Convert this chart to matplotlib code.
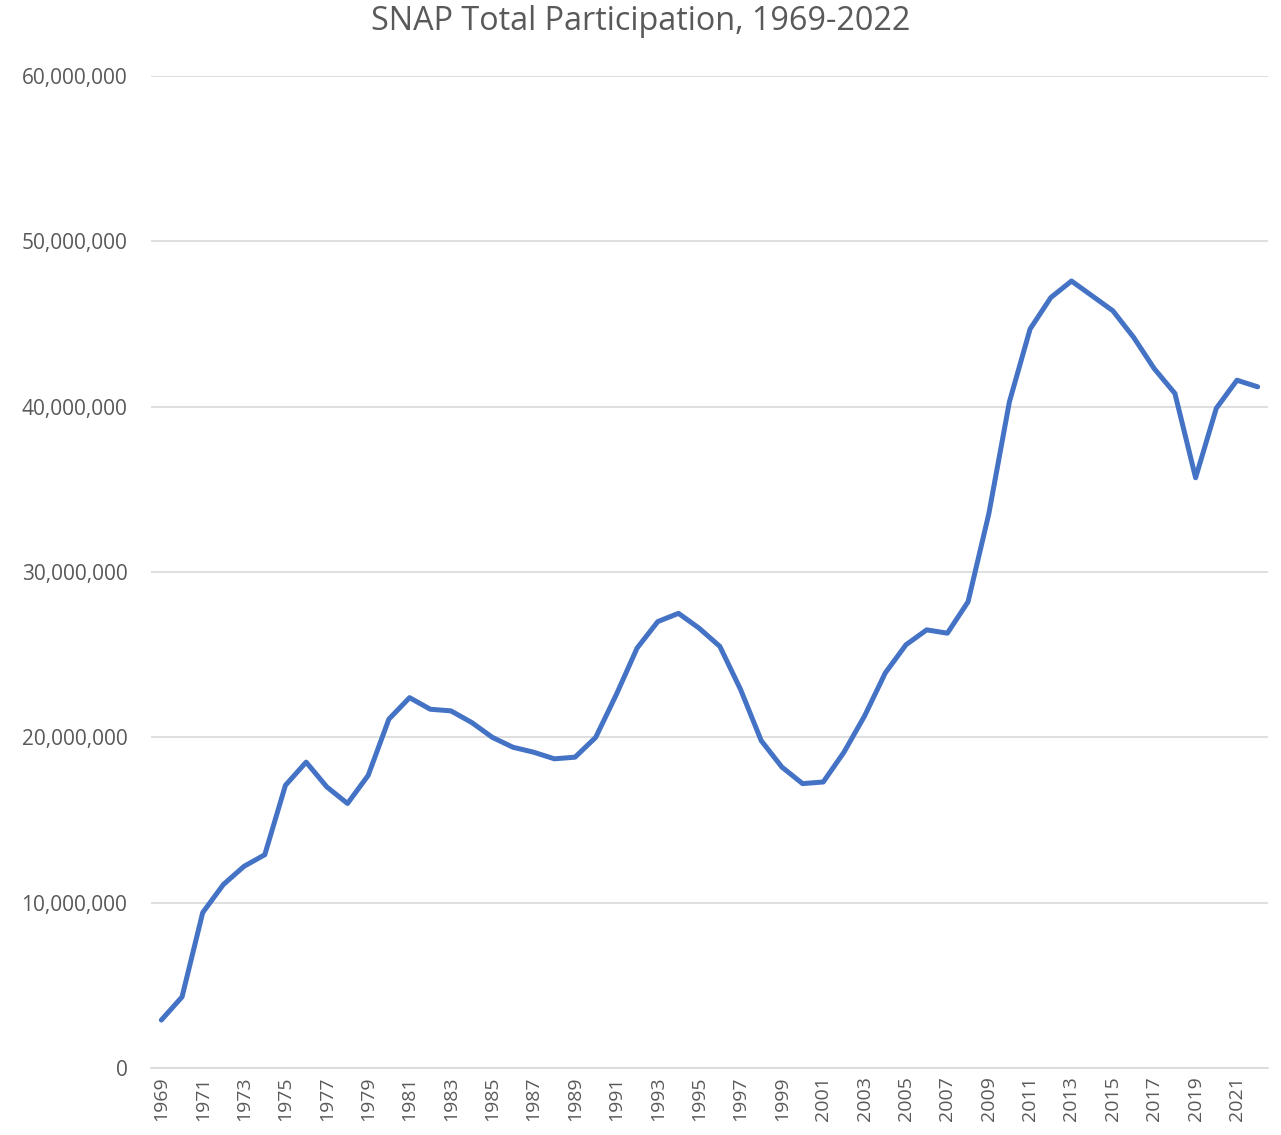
import matplotlib.pyplot as plt
from matplotlib.ticker import FuncFormatter

years = list(range(1969, 2023))
participation_m = [
    2.9, 4.3, 9.4, 11.1, 12.2, 12.9, 17.1, 18.5, 17.0, 16.0,
    17.7, 21.1, 22.4, 21.7, 21.6, 20.9, 20.0, 19.4, 19.1, 18.7,
    18.8, 20.0, 22.6, 25.4, 27.0, 27.5, 26.6, 25.5, 22.9, 19.8,
    18.2, 17.2, 17.3, 19.1, 21.3, 23.9, 25.6, 26.5, 26.3, 28.2,
    33.5, 40.3, 44.7, 46.6, 47.6, 46.7, 45.8, 44.2, 42.3, 40.8,
    35.7, 39.9, 41.6, 41.2,
]
participation = [v * 1e6 for v in participation_m]

TEXT = "#595959"
plt.rcParams['font.family'] = ['Open Sans', 'DejaVu Sans']

fig = plt.figure(figsize=(12.81, 11.35), dpi=100)
ax = fig.add_axes([151 / 1281, 67 / 1135, (1268 - 151) / 1281, (1068 - 76) / 1135])

x = list(range(len(years)))
ax.plot(x, participation, color="#4472C4", linewidth=3.6, solid_capstyle="round", solid_joinstyle="round")

ax.set_xlim(-0.5, len(years) - 0.5)
ax.set_ylim(0, 60e6)
ax.set_yticks([i * 10e6 for i in range(7)])
ax.yaxis.set_major_formatter(FuncFormatter(lambda v, p: f"{int(v):,}"))
ax.set_xticks(x[::2])
ax.set_xticklabels([str(y) for y in years[::2]], rotation=90)

ax.grid(axis="y", color="#D9D9D9", linewidth=1.2)
ax.set_axisbelow(True)
for s in ["top", "right", "left"]:
    ax.spines[s].set_visible(False)
ax.spines["bottom"].set_color("#D9D9D9")
ax.spines["bottom"].set_linewidth(1.2)
ax.tick_params(axis="both", length=0, colors=TEXT)
ax.tick_params(axis="y", pad=17, labelsize=15)
ax.tick_params(axis="x", pad=6, labelsize=14)

fig.text(0.5, 1 - 21 / 1135, "SNAP Total Participation, 1969-2022", ha="center", va="center",
         fontsize=23.3, color=TEXT)

fig.savefig("out.png", dpi=100)
